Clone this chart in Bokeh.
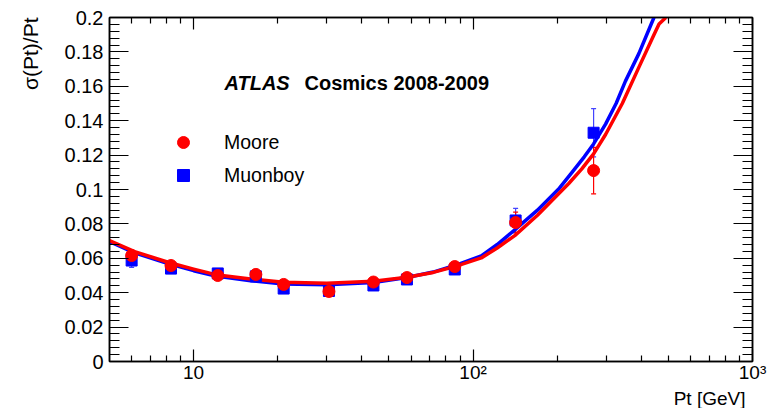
from bokeh.plotting import figure
from bokeh.models import (ColumnDataSource, Whisker, TeeHead, LinearAxis, LogAxis,
                          SingleIntervalTicker, FixedTicker, CustomJSTickFormatter,
                          Label, Legend, LegendItem, Range1d, Title)
from bokeh.embed import file_html
from bokeh.resources import INLINE

# ---------------- data ----------------
pt = [6, 8.3, 12.2, 16.7, 21, 30.5, 44, 58, 86, 142, 270]
moore = [0.0616, 0.0558, 0.0500, 0.0506, 0.0448, 0.0407, 0.0462, 0.0488, 0.0552, 0.0808, 0.111]
moore_err = [0.003, 0.002, 0.002, 0.003, 0.002, 0.002, 0.002, 0.002, 0.002, 0.006, 0.0135]
muonboy = [0.0587, 0.0540, 0.0512, 0.0495, 0.0424, 0.0410, 0.0442, 0.0477, 0.0535, 0.0820, 0.133]
muonboy_err = [0.004, 0.002, 0.002, 0.002, 0.002, 0.002, 0.002, 0.002, 0.002, 0.007, 0.014]

moore_fit_pt = [5, 6.15, 8.1, 10, 12, 16, 21, 30, 44, 58, 72, 86, 107, 122, 141, 170, 202, 220, 245,
                270, 298, 342, 392, 444, 463, 490]
moore_fit = [0.0703, 0.0639, 0.0577, 0.0537, 0.0505, 0.0480, 0.0461, 0.0455, 0.0467, 0.0490, 0.0518, 0.0552,
             0.0602, 0.0660, 0.0732, 0.0850, 0.0974, 0.1035, 0.1120, 0.1207, 0.1320, 0.1500, 0.1710,
             0.1900, 0.1962, 0.2]
muonboy_fit_pt = [5, 6.15, 8.1, 10, 12, 16, 21, 30, 44, 58, 72, 86, 107, 122, 141, 170, 202, 226, 250,
                  270, 298, 325, 351, 392, 426, 444]
muonboy_fit = [0.0697, 0.0632, 0.0569, 0.0528, 0.0497, 0.0470, 0.0451, 0.0446, 0.0459, 0.0488, 0.0520,
               0.0558, 0.0614, 0.0680, 0.0765, 0.0880, 0.1001, 0.1100, 0.1190, 0.1265, 0.1380, 0.1500,
               0.1630, 0.1790, 0.1930, 0.2]

x_major_ticks = [10, 100, 1000]
x_minor_mantissas = [2, 3, 4, 5, 6, 7, 8, 9]
y_tick_interval = 0.02

series_names = ["Moore", "Muonboy"]
title_bold_italic = "ATLAS"
title_rest = "Cosmics 2008-2009"
x_title = "Pt [GeV]"
y_title = "σ(Pt)/Pt"

FONT = "Liberation Sans"

# ---------------- figure ----------------
p = figure(width=770, height=408, x_axis_type="log",
           x_range=Range1d(5, 1000), y_range=Range1d(0, 0.2),
           output_backend="svg", toolbar_location=None,
           min_border_left=109, min_border_right=18,
           min_border_top=17, min_border_bottom=47)
p.xgrid.visible = False
p.ygrid.visible = False
p.outline_line_color = "black"
p.outline_line_width = 1.5
p.background_fill_color = "white"
p.border_fill_color = "white"

minor_x = [m * 10 ** k for k in range(0, 3) for m in x_minor_mantissas if 5 < m * 10 ** k < 1000]

xfmt = CustomJSTickFormatter(code="""
const e = Math.round(Math.log10(tick));
if (e == 1) { return "10"; }
if (e == 2) { return "10\u00b2"; }
if (e == 3) { return "10\u00b3"; }
return "10^" + e;
""")
yfmt = CustomJSTickFormatter(code="return (Math.round(tick*1000)/1000).toString();")
nofmt = CustomJSTickFormatter(code="return '';")


def style_axis(ax, major_in, minor_in, labels, size="20px"):
    ax.major_tick_in = major_in
    ax.major_tick_out = 0
    ax.minor_tick_in = minor_in
    ax.minor_tick_out = 0
    ax.axis_line_color = "black"
    ax.axis_line_width = 1.5
    ax.major_tick_line_color = "black"
    ax.minor_tick_line_color = "black"
    ax.major_tick_line_width = 1.2
    ax.minor_tick_line_width = 1.2
    ax.major_label_text_font = FONT
    ax.major_label_text_font_size = size
    ax.major_label_text_color = "black"
    if not labels:
        ax.formatter = nofmt
        ax.major_label_standoff = 0


bottom = p.xaxis[0]
bottom.ticker = FixedTicker(ticks=x_major_ticks, minor_ticks=minor_x)
bottom.formatter = xfmt
style_axis(bottom, 12, 6, True, "19px")
bottom.major_label_standoff = 0

left = p.yaxis[0]
left.ticker = SingleIntervalTicker(interval=y_tick_interval, num_minor_ticks=5)
left.formatter = yfmt
style_axis(left, 19, 10, True)
left.major_label_standoff = 6

top = LogAxis(ticker=FixedTicker(ticks=x_major_ticks, minor_ticks=minor_x))
style_axis(top, 12, 6, False)
p.add_layout(top, "above")

right = LinearAxis(ticker=SingleIntervalTicker(interval=y_tick_interval, num_minor_ticks=5))
style_axis(right, 19, 10, False)
p.add_layout(right, "right")

# ---------------- axis titles (side panels) ----------------
p.add_layout(Title(text=x_title, align="right", vertical_align="bottom", standoff=0, offset=7,
                   text_font=FONT, text_font_style="normal", text_font_size="19px",
                   text_color="black"), "below")
p.add_layout(Title(text=y_title, align="right", vertical_align="top", standoff=36, offset=0,
                   text_font=FONT, text_font_style="normal", text_font_size="21px",
                   text_color="black"), "left")

# ---------------- fit curves ----------------
p.line(muonboy_fit_pt, muonboy_fit, line_color="#0000ff", line_width=3.5, line_join="round")
p.line(moore_fit_pt, moore_fit, line_color="#ff0000", line_width=3.5, line_join="round")

# ---------------- error bars ----------------
src_mb = ColumnDataSource(dict(x=pt, y=muonboy,
                               upper=[v + e for v, e in zip(muonboy, muonboy_err)],
                               lower=[v - e for v, e in zip(muonboy, muonboy_err)]))
src_mo = ColumnDataSource(dict(x=pt, y=moore,
                               upper=[v + e for v, e in zip(moore, moore_err)],
                               lower=[v - e for v, e in zip(moore, moore_err)]))

for src, col in ((src_mb, "#4444ff"), (src_mo, "#ff0000")):
    w = Whisker(base="x", upper="upper", lower="lower", source=src, dimension="height",
                line_color=col, line_width=1.2,
                upper_head=TeeHead(size=5, line_color=col, line_width=1.2),
                lower_head=TeeHead(size=5, line_color=col, line_width=1.2))
    p.add_layout(w)

# ---------------- markers ----------------
r_mb = p.scatter("x", "y", source=src_mb, marker="square", size=11,
                 fill_color="#0000ff", line_color="#0000ff")
r_mo = p.scatter("x", "y", source=src_mo, marker="circle", size=12,
                 fill_color="#ff0000", line_color="#ff0000")

# ---------------- legend ----------------
legend = Legend(items=[LegendItem(label=series_names[0], renderers=[r_mo]),
                       LegendItem(label=series_names[1], renderers=[r_mb])],
                location=(59, 171), padding=0, margin=0, spacing=3,
                glyph_width=30, glyph_height=30, label_height=30,
                label_standoff=26, border_line_color=None, background_fill_alpha=0,
                label_text_font=FONT, label_text_font_size="19.5px",
                label_text_color="black")
p.add_layout(legend)

# ---------------- header text ----------------
p.add_layout(Label(x=115, y=279, x_units="screen", y_units="screen", text=title_bold_italic,
                   text_font=FONT, text_font_style="bold italic", text_font_size="20px",
                   text_baseline="alphabetic", text_color="black"))
p.add_layout(Label(x=195, y=279, x_units="screen", y_units="screen", text=title_rest,
                   text_font=FONT, text_font_style="bold", text_font_size="20px",
                   text_baseline="alphabetic", text_color="black"))

open("out.html", "w").write(file_html(p, INLINE))
